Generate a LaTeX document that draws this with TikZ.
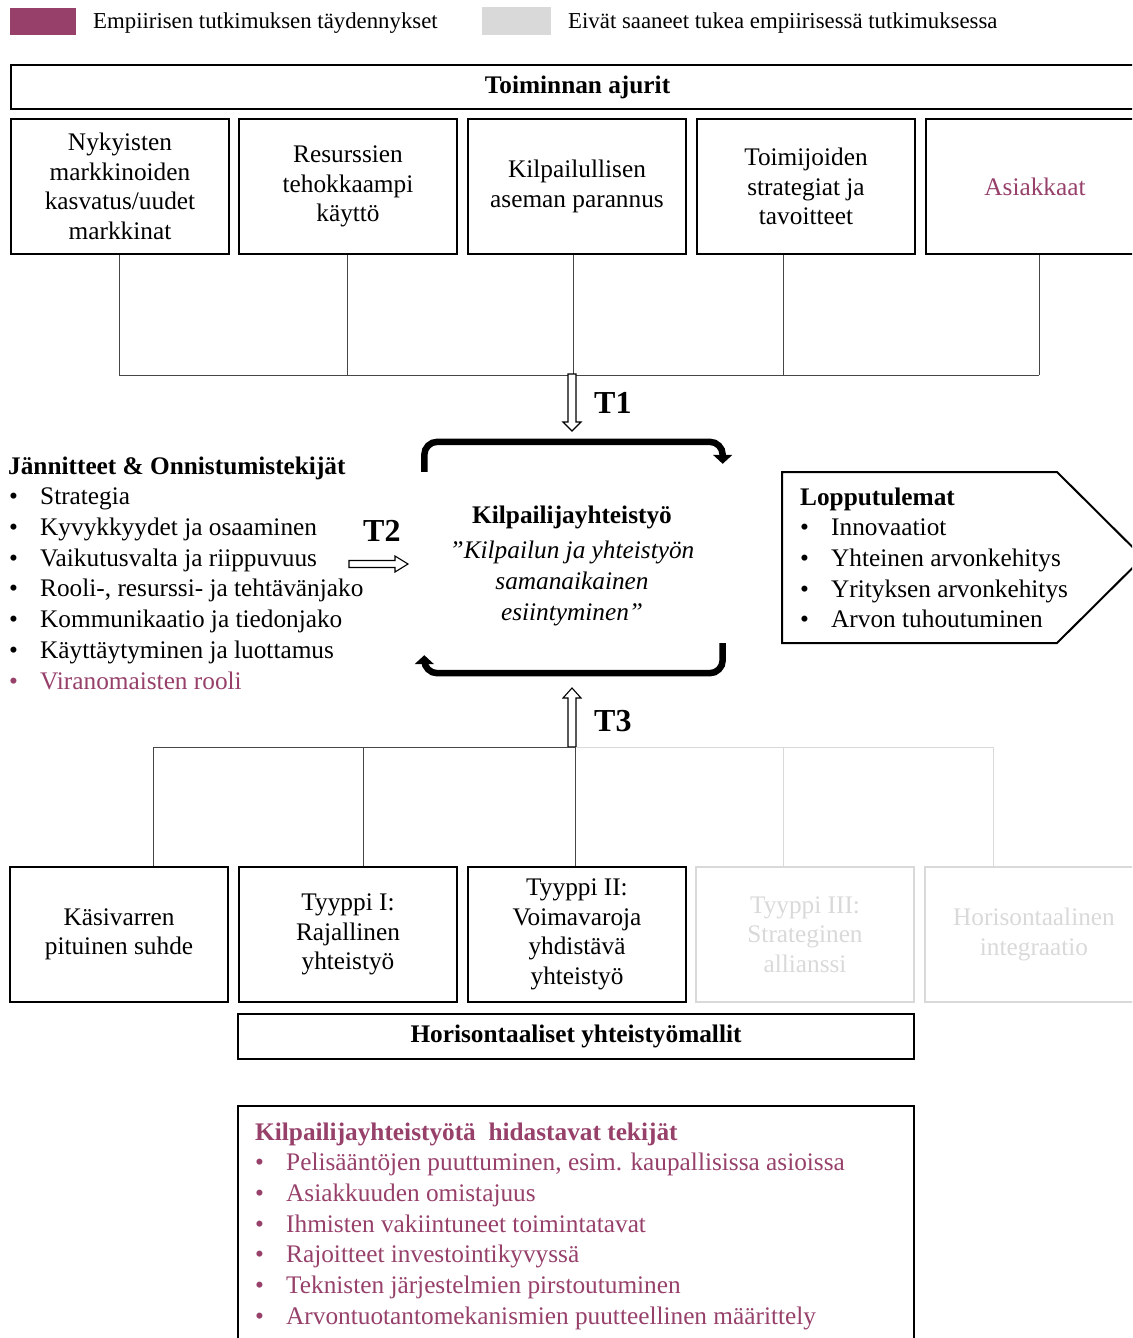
\documentclass[tikz,border=0pt]{standalone}
\usepackage{fontspec}
\setmainfont{Liberation Serif}
\usetikzlibrary{calc,arrows.meta}
\definecolor{plum}{RGB}{150,64,106}
\definecolor{ghost}{RGB}{217,217,217}
\definecolor{wire}{RGB}{70,70,70}

\begin{document}
\begin{tikzpicture}[x=1pt,y=-1pt,
  every node/.style={font=\fontsize{25.3}{29.5}\selectfont},
  card/.style={draw,line width=2pt,minimum width=218pt,minimum height=135pt,
    inner sep=2pt,align=center,anchor=north west},
  ghostcard/.style={card,draw=ghost,text=ghost},
  banner/.style={draw,line width=2pt,inner sep=0pt,anchor=north west,font=\fontsize{25.3}{29.5}\selectfont\bfseries},
  conn/.style={draw=wire,line width=1pt},
  ghostconn/.style={draw=ghost,line width=1pt},
  blockarrow/.style={draw=black,line width=1.1pt,fill=white,line join=miter},
  loop/.style={line width=6.5pt,rounded corners=13pt,-{Triangle[length=9pt,width=19pt]}},
  line/.style={anchor=base west,inner sep=0pt},
  dot/.style={anchor=base west,inner sep=0pt},
  tag/.style={anchor=base west,inner sep=0pt,font=\fontsize{32}{34}\selectfont\bfseries},
]
\useasboundingbox (0,0) rectangle (1132,1338);
\clip (0,0) rectangle (1132,1338);

% legend
\fill[plum] (10,8) rectangle (76,35);
\node[line,font=\fontsize{22.8}{26}\selectfont] (legA) at (93,29) {Empiirisen tutkimuksen täydennykset};
\fill[ghost] (482,7) rectangle (551,35);
\node[line,font=\fontsize{22.8}{26}\selectfont] (legB) at (568,29) {Eivät saaneet tukea empiirisessä tutkimuksessa};

% drivers
\node[banner,minimum width=1133pt,minimum height=44pt] (drivers) at (10,64) {Toiminnan ajurit};
\node[card] (d1) at (10,118) {Nykyisten\\markkinoiden\\kasvatus/uudet\\markkinat};
\node[card] (d2) at (238,118) {Resurssien\\tehokkaampi\\käyttö};
\node[card] (d3) at (467,118) {Kilpailullisen\\aseman parannus};
\node[card] (d4) at (696,118) {Toimijoiden\\strategiat ja\\tavoitteet};
\node[card,text=plum] (d5) at (925,118) {Asiakkaat};

\coordinate (topbus) at (0,375);
\coordinate (c1) at ([xshift=-1pt]d1.south);
\coordinate (c2) at ([xshift=-0.5pt]d2.south);
\coordinate (c3) at ([xshift=-4pt]d3.south);
\coordinate (c4) at ([xshift=-23pt]d4.south);
\coordinate (c5) at ([xshift=4pt]d5.south);
\draw[conn] (c1 |- topbus) -- (c5 |- topbus);
\foreach \c in {c1,c2,c3,c4,c5} \draw[conn] (\c) -- (\c |- topbus);

% T1
\coordinate (t1) at (572,374);
\draw[blockarrow] (t1) ++(-4,0) -- ++(0,48) -- ++(-5,0) -- ++(9,9) -- ++(9,-9) -- ++(-5,0) -- ++(0,-48) -- cycle;
\node[tag] (t1lab) at (594,413) {T1};

% core
\node[minimum width=298pt,minimum height=231pt,inner sep=0pt] (frame) at (573.5,557.5) {};
\draw[loop] ($(frame.north west)+(0,30)$) -- (frame.north west) -- (frame.north east) -- ($(frame.north east)+(0,22)$);
\draw[loop] ($(frame.south east)+(0,-30)$) -- (frame.south east) -- (frame.south west) -- ($(frame.south west)+(0,-18)$);
\node[align=center,inner sep=0pt] (coretitle) at (572,517) {\bfseries Kilpailijayhteistyö};
\node[align=center,inner sep=0pt,font=\fontsize{25.3}{31}\selectfont\itshape] (corequote) at (572,583) {”Kilpailun ja yhteistyön\\samanaikainen\\esiintyminen”};

% tensions
\node[line,font=\fontsize{25.3}{29.5}\selectfont\bfseries] (tens) at (8,474) {Jännitteet \& Onnistumistekijät};
\foreach \t [count=\i] in {Strategia,Kyvykkyydet ja osaaminen,Vaikutusvalta ja riippuvuus,{Rooli-, resurssi- ja tehtävänjako},Kommunikaatio ja tiedonjako,Käyttäytyminen ja luottamus}{
  \node[dot] (tb\i) at (9,{474+30.7*\i}) {•};
  \node[line] (tt\i) at (40,{474+30.7*\i}) {\t};
}
\node[dot,text=plum] (tb7) at (9,689) {•};
\node[line,text=plum] (tt7) at (40,689) {Viranomaisten rooli};

% T2
\node[tag] (t2lab) at (363,541) {T2};
\coordinate (t2) at (349,564);
\draw[blockarrow] (t2) ++(0,-3.5) -- ++(46,0) -- ++(0,-4.5) -- ++(13,8) -- ++(-13,8) -- ++(0,-4.5) -- ++(-46,0) -- cycle;

% outcomes
\draw[line width=2pt,line join=miter] (782,472) -- (1057,472) -- (1143,557.5) -- (1057,643) -- (782,643) -- cycle;
\node[line,font=\fontsize{25.3}{29.5}\selectfont\bfseries] (outt) at (800,505) {Lopputulemat};
\foreach \t [count=\i] in {Innovaatiot,Yhteinen arvonkehitys,Yrityksen arvonkehitys,Arvon tuhoutuminen}{
  \node[dot] (ob\i) at (800,{505+30.7*\i}) {•};
  \node[line] (ot\i) at (831,{505+30.7*\i}) {\t};
}

% T3
\coordinate (t3) at (572,747);
\draw[blockarrow] (t3) ++(-4,0) -- ++(0,-49) -- ++(-5,0) -- ++(9,-10) -- ++(9,10) -- ++(-5,0) -- ++(0,49) -- cycle;
\node[tag] (t3lab) at (594,731) {T3};

% collaboration models
\node[card] (m1) at (9,866) {Käsivarren\\pituinen suhde};
\node[card] (m2) at (238,866) {Tyyppi I:\\Rajallinen\\yhteistyö};
\node[card] (m3) at (467,866) {Tyyppi II:\\Voimavaroja\\yhdistävä\\yhteistyö};
\node[ghostcard] (m4) at (695,866) {Tyyppi III:\\Strateginen\\allianssi};
\node[ghostcard] (m5) at (924,866) {Horisontaalinen\\integraatio};

\coordinate (lowbus) at (0,747);
\coordinate (e1) at ([xshift=34.5pt]m1.north);
\coordinate (e2) at ([xshift=15.5pt]m2.north);
\coordinate (e3) at ([xshift=-2pt]m3.north);
\coordinate (e4) at ([xshift=-22pt]m4.north);
\coordinate (e5) at ([xshift=-41pt]m5.north);
\draw[ghostconn] (e3 |- lowbus) -- (e5 |- lowbus);
\foreach \c in {e4,e5} \draw[ghostconn] (\c) -- (\c |- lowbus);
\draw[conn] (e1 |- lowbus) -- (e3 |- lowbus);
\foreach \c in {e1,e2,e3} \draw[conn] (\c) -- (\c |- lowbus);

\node[banner,minimum width=676pt,minimum height=45pt] (models) at (237,1013) {Horisontaaliset yhteistyömallit};

% hindering factors
\node[draw,line width=2pt,minimum width=676pt,minimum height=260pt,anchor=north west,inner sep=0pt] (hinder) at (237,1105) {};
\node[line,text=plum,font=\fontsize{25.3}{29.5}\selectfont\bfseries] (hindt) at (255,1140) {Kilpailijayhteistyötä\ \ hidastavat tekijät};
\foreach \t [count=\i] in {{Pelisääntöjen puuttuminen, esim. kaupallisissa asioissa},Asiakkuuden omistajuus,Ihmisten vakiintuneet toimintatavat,Rajoitteet investointikyvyssä,Teknisten järjestelmien pirstoutuminen,Arvontuotantomekanismien puutteellinen määrittely}{
  \node[dot,text=plum] (hb\i) at (255,{1140+30.7*\i}) {•};
  \node[line,text=plum] (ht\i) at (286,{1140+30.7*\i}) {\t};
}
\end{tikzpicture}
\end{document}
